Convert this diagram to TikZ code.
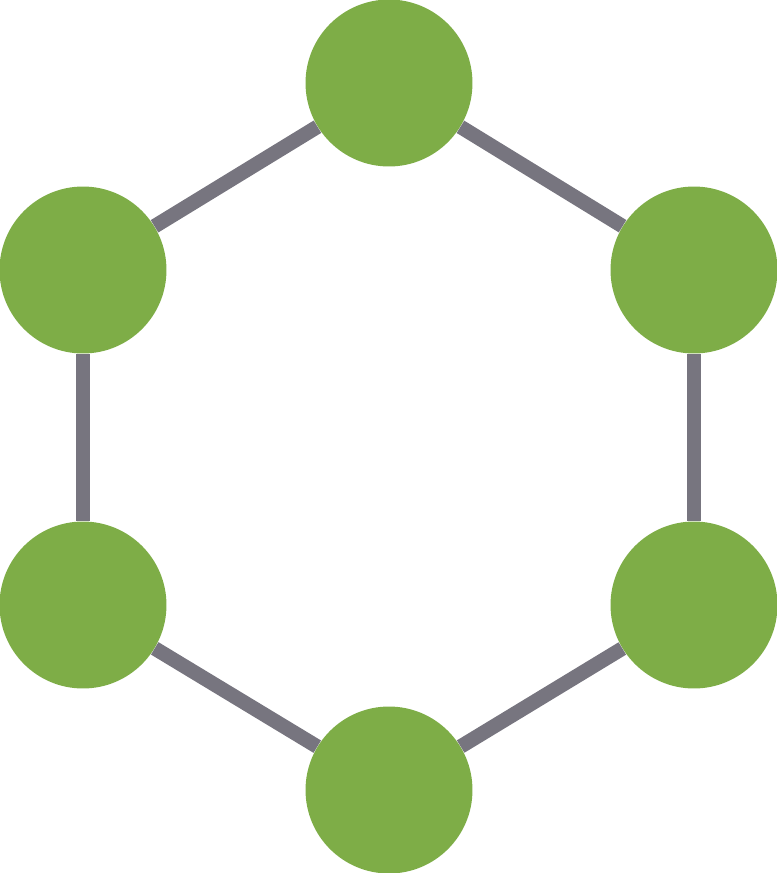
\documentclass[tikz,border=0pt]{standalone}
\usepackage{tikz}
\usetikzlibrary{positioning}

\definecolor{atomgreen}{HTML}{7EAD47}
\definecolor{bondgray}{HTML}{77757F}

\begin{document}
\begin{tikzpicture}[x=0.02cm, y=-0.02cm, bond/.style={draw=bondgray, line width=0.29cm}]
    \tikzset{atom/.style={circle, fill=atomgreen, minimum size=3.34cm, inner sep=0pt}}
    \useasboundingbox (0,0) rectangle (777,873);
    \node[atom] (top)         at (389,83)  {};
    \node[atom] (upper_right) at (694,270) {};
    \node[atom] (lower_right) at (694,605) {};
    \node[atom] (bottom)      at (389,790) {};
    \node[atom] (lower_left)  at (83,605)  {};
    \node[atom] (upper_left)  at (83,270)  {};
    \path (top)         edge [bond] (upper_right)
          (upper_right) edge [bond] (lower_right)
          (lower_right) edge [bond] (bottom)
          (bottom)      edge [bond] (lower_left)
          (lower_left)  edge [bond] (upper_left)
          (upper_left)  edge [bond] (top);
\end{tikzpicture}
\end{document}
